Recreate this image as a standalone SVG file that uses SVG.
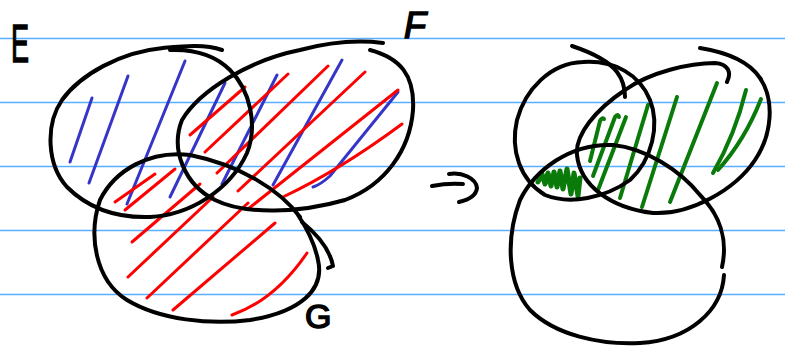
<svg xmlns="http://www.w3.org/2000/svg" width="785" height="346" viewBox="0 0 785 346">
<style>
.rule{stroke:#5aaeff;stroke-width:1.5}
.ink{fill:none;stroke:#000;stroke-width:4;stroke-linecap:round;stroke-linejoin:round}
.red{fill:none;stroke:#f00;stroke-width:3;stroke-linecap:round}
.blue{fill:none;stroke:#3535c8;stroke-width:3;stroke-linecap:round}
.green{fill:none;stroke:#0a7a0a;stroke-width:4;stroke-linecap:round;stroke-linejoin:round}
.lbl{font-family:"Liberation Sans",Arial,sans-serif;fill:#000;stroke:#000;stroke-width:1.5}
</style>
<rect width="785" height="346" fill="#fff"/>
<g id="rules">
<line class="rule" x1="0" y1="38.5" x2="785" y2="38.5"/>
<line class="rule" x1="0" y1="102.5" x2="785" y2="102.5"/>
<line class="rule" x1="0" y1="166.5" x2="785" y2="166.5"/>
<line class="rule" x1="0" y1="230.5" x2="785" y2="230.5"/>
<line class="rule" x1="0" y1="294.5" x2="785" y2="294.5"/>
</g>
<g id="left-hatch-blue">
<path class="blue" d="M70,162 L92,98"/>
<path class="blue" d="M89,183 L128,76"/>
<path class="blue" d="M127,204 L185,61"/>
<path class="blue" d="M170,197 L225,83"/>
<path class="blue" d="M222,184 L277,75"/>
<path class="blue" d="M273,185 L342,60"/>
<path class="blue" d="M313,187 Q320,185 330,176 L398,92"/>
</g>
<g id="left-hatch-red">
<path class="red" d="M190,135 Q230,100 245,87"/>
<path class="red" d="M205,152 L288,74"/>
<path class="red" d="M217,173 L328,66"/>
<path class="red" d="M238,191 L365,72"/>
<path class="red" d="M248,209 L398,90"/>
<path class="red" d="M283,197 Q340,170 402,124"/>
<path class="red" d="M115,202 L155,174"/>
<path class="red" d="M125,210 L175,169"/>
<path class="red" d="M132,242 L200,184"/>
<path class="red" d="M128,277 L213,197"/>
<path class="red" d="M147,298 L248,203"/>
<path class="red" d="M173,310 L275,223"/>
<path class="red" d="M232,315 Q275,300 307,253"/>
</g>
<g id="set-E">
<path class="ink" d="M222,50 C205,44 185,46 163,48 C120,52 80,75 62,100 C45,125 47,165 67,187 C90,210 120,218 150,217 C190,215 230,190 247,153 C258,125 250,90 230,70 C215,55 195,49 170,50"/>
<text class="lbl" transform="translate(11,62) scale(0.5,1)" font-size="54">E</text>
</g>
<g id="set-F">
<path class="ink" d="M383,43 C360,40 330,42 300,50 C250,60 200,90 182,120 C170,150 185,185 215,200 C245,215 300,213 345,200 C385,185 410,150 413,110 C415,75 400,58 370,50"/>
<text class="lbl" x="404" y="38" font-size="36" font-style="italic">F</text>
</g>
<g id="set-G">
<path class="ink" d="M300,217 C280,190 240,165 190,155 C150,150 115,170 100,200 C88,235 95,280 127,300 C160,320 210,325 250,320 C300,312 325,290 318,260 C315,245 308,230 298,215"/>
<path class="ink" d="M302,222 C318,235 330,250 333,266 L328,268"/>
<text class="lbl" x="305" y="328" font-size="34">G</text>
</g>
<g id="arrow">
<path class="ink" d="M432,186 C442,184 452,183 463,184"/>
<path class="ink" d="M449,174 C462,172 476,178 477,188 C476,196 468,200 459,202"/>
</g>
<g id="right-hatch-green">
<path class="green" style="stroke-width:5" d="M538,182 L542,174 L545,184 L548,173 L551,186 L554,172 L557,187 L560,171 L563,189 L567,169 L571,194 L574,173 L578,196 L580,178"/>
<path class="green" d="M590,161 L600,121 Q602,117 604,119"/>
<path class="green" d="M593,176 L615,117 Q618,113 619,117"/>
<path class="green" d="M598,190 L626,117"/>
<path class="green" d="M620,198 L648,105"/>
<path class="green" d="M642,207 L677,97"/>
<path class="green" d="M670,202 L717,83"/>
<path class="green" d="M713,173 Q735,135 746,90"/>
<path class="green" d="M718,170 Q745,140 761,99"/>
</g>
<g id="set-E2">
<path class="ink" d="M583,62 C550,63 525,90 517,120 C510,150 520,180 545,195 C570,205 605,198 630,180 C652,160 660,125 650,100 C640,75 615,60 583,62"/>
<path class="ink" d="M572,46 C590,52 608,60 617,72 C623,80 625,90 625,97"/>
</g>
<g id="set-F2">
<path class="ink" d="M727,82 C732,72 728,64 715,63 C690,63 650,72 625,90 C595,110 575,135 577,155 C580,185 610,208 653,213 C690,215 735,190 755,160 C772,135 775,100 760,78 C748,60 725,52 700,48"/>
</g>
<g id="set-G2">
<path class="ink" d="M722,267 C728,240 720,215 700,195 C680,170 645,148 613,145 C570,143 535,170 520,200 C505,240 508,285 530,310 C555,335 600,345 640,343 C690,340 722,310 724,275"/>
</g>
</svg>
